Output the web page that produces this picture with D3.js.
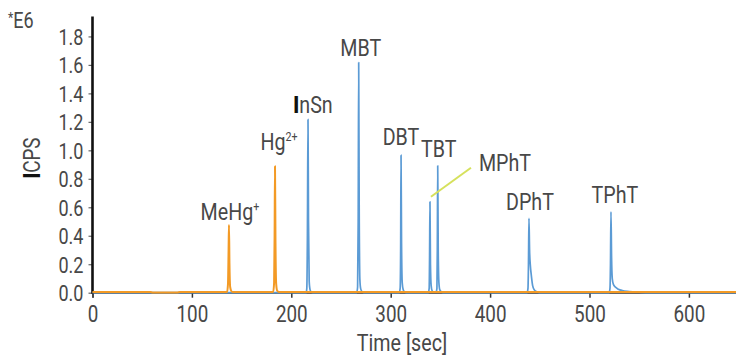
<!DOCTYPE html>
<html>
<head>
<meta charset="utf-8">
<script src="https://cdn.jsdelivr.net/npm/d3@7/dist/d3.min.js"></script>
<style>
  html, body { margin: 0; padding: 0; background: #fff; }
  svg { display: block; }
  text { font-family: Roboto, "Noto Sans", sans-serif; fill: #484848; }
</style>
</head>
<body>
<svg id="chart" width="736" height="359"></svg>
<script>
// Time axis ticks (s) and intensity ticks (x 10^6 counts per second)
const timeTicks = [0, 100, 200, 300, 400, 500, 600];
const cpsTicks = [0.0, 0.2, 0.4, 0.6, 0.8, 1.0, 1.2, 1.4, 1.6, 1.8];

// Hg channel trace: [time s, ICPS x1e6]
const hgTrace = [
  [0, 0.005], [58, 0.005], [61, 0.001], [85, 0.001], [88, 0.005],
  [135.4, 0.005], [136.3, 0.06], [136.9, 0.3], [137.3, 0.475], [137.8, 0.2], [138.5, 0.04], [139.6, 0.012], [141, 0.005],
  [181.8, 0.005], [182.7, 0.07], [183.2, 0.4], [183.6, 0.889], [184.1, 0.35], [184.8, 0.06], [185.9, 0.012], [187.5, 0.005],
  [650, 0.005]
];

// Sn channel trace: [time s, ICPS x1e6]
const snTrace = [
  [0, 0.0], [215, 0.0],
  [215.6, 0.03], [216.2, 0.4], [216.8, 1.217], [217.3, 0.5], [218.0, 0.08], [218.9, 0.02], [220, 0.005], [221.5, 0.0],
  [265.8, 0.0], [266.7, 0.04], [267.3, 0.5], [267.8, 1.617], [268.3, 0.6], [269.0, 0.09], [269.9, 0.025], [271.5, 0.005], [273, 0.0],
  [308.6, 0.0], [309.5, 0.03], [310.0, 0.3], [310.4, 0.966], [310.9, 0.35], [311.6, 0.07], [312.6, 0.02], [314, 0.005], [315.5, 0.0],
  [337.8, 0.0], [338.7, 0.03], [339.1, 0.25], [339.5, 0.639], [340.0, 0.2], [340.7, 0.05], [341.6, 0.015], [343, 0.005],
  [345.6, 0.003], [346.5, 0.03], [346.9, 0.3], [347.3, 0.891], [347.8, 0.3], [348.5, 0.07], [349.4, 0.02], [351, 0.005], [352.5, 0.0],
  [437.2, 0.0], [438.1, 0.03], [438.6, 0.2], [439.1, 0.522], [439.7, 0.3], [440.5, 0.19], [441.5, 0.12], [442.8, 0.05], [444.5, 0.02], [447, 0.006], [450, 0.0],
  [519.7, 0.0], [520.6, 0.03], [521.1, 0.2], [521.6, 0.568], [522.2, 0.25], [522.9, 0.1], [524, 0.06], [526, 0.04], [529, 0.025], [533, 0.015], [540, 0.008], [550, 0.003], [560, 0.0],
  [650, 0.0]
];

// Peak identities: name, superscript, retention time, apex height
const peakNames = ["MeHg", "Hg", "InSn", "MBT", "DBT", "MPhT", "TBT", "DPhT", "TPhT"];
const peakSups  = ["+", "2+", "", "", "", "", "", "", ""];
const peakTimes = [137.3, 183.6, 216.8, 267.8, 310.4, 339.5, 347.3, 439.1, 521.6];
const peakHeights = [0.475, 0.889, 1.217, 1.617, 0.966, 0.639, 0.891, 0.522, 0.568];

const svg = d3.select("#chart");
const x = d3.scaleLinear().domain([0, 650]).range([92.5, 738.6]);
const y = d3.scaleLinear().domain([0, 1.94]).range([292.7, 16.5]);
const SX = 0.82; // horizontal squeeze for a condensed look

// x axis
const xAxis = svg.append("g")
  .attr("transform", `translate(0,${y(0)})`)
  .call(d3.axisBottom(x).tickValues(timeTicks).tickSize(5).tickPadding(6).tickFormat(d3.format("d")));
xAxis.select(".domain").attr("stroke", "#333").attr("stroke-width", 1.2);
xAxis.selectAll(".tick line").attr("stroke", "#333").attr("stroke-width", 1.5);
xAxis.selectAll(".tick text")
  .attr("font-size", 23).attr("fill", "#484848")
  .attr("transform", `scale(${SX},1)`)
  .attr("dy", "0.71em").attr("y", 13);

// y axis
const yAxis = svg.append("g")
  .attr("transform", `translate(${x(0)},0)`)
  .call(d3.axisLeft(y).tickValues(cpsTicks).tickSize(4).tickPadding(5).tickFormat(d3.format(".1f")));
yAxis.select(".domain").remove();
yAxis.selectAll(".tick line").attr("stroke", "#666").attr("stroke-width", 1.2);
yAxis.selectAll(".tick text")
  .attr("font-size", 22).attr("fill", "#484848")
  .attr("transform", `scale(${SX},1)`)
  .attr("x", -9 / SX).attr("dy", "0.36em");
svg.append("line")
  .attr("x1", x(0)).attr("x2", x(0))
  .attr("y1", 16.5).attr("y2", y(0) + 1)
  .attr("stroke", "#111").attr("stroke-width", 2.6);

// traces
const lineGen = d3.line().x(d => x(d[0])).y(d => y(d[1])).curve(d3.curveMonotoneX);
svg.append("path").datum(snTrace)
  .attr("d", lineGen).attr("fill", "none")
  .attr("stroke", "#5b9bd5").attr("stroke-width", 1.7).attr("stroke-linejoin", "round");
svg.append("path").datum(hgTrace)
  .attr("d", lineGen).attr("fill", "none")
  .attr("stroke", "#f39a25").attr("stroke-width", 2).attr("stroke-linejoin", "round");

// text helper with condensed squeeze
function squeezedText(px, py, opts = {}) {
  return svg.append("text")
    .attr("transform", `translate(${px},${py}) ${opts.rotate ? `rotate(${opts.rotate})` : ""} scale(${SX},1)`)
    .attr("text-anchor", opts.anchor || "middle")
    .attr("font-size", opts.size || 23);
}

// peak labels, offset from each apex
const labelOffsets = {
  MeHg: [1, -5], Hg: [4, -16], InSn: [5, -6], MBT: [2, -6], DBT: [0, -10],
  MPhT: [75, -31], TBT: [1, -9], DPhT: [1, -8], TPhT: [4, -9]
};
peakNames.forEach((name, i) => {
  const [dx, dy] = labelOffsets[name];
  const t = squeezedText(x(peakTimes[i]) + dx, y(peakHeights[i]) + dy, { size: 24 });
  if (name === "InSn") {
    t.append("tspan").attr("font-weight", 900).attr("fill", "#111").text("I");
    t.append("tspan").text("nSn");
  } else {
    t.append("tspan").text(name);
  }
  if (peakSups[i]) {
    t.append("tspan").attr("font-size", 13).attr("dy", -9).text(peakSups[i]);
  }
});

// leader line to the MPhT peak
const mi = peakNames.indexOf("MPhT");
svg.append("line")
  .attr("x1", x(peakTimes[mi]) + 1).attr("y1", y(peakHeights[mi]) - 5)
  .attr("x2", x(peakTimes[mi]) + 41).attr("y2", y(peakHeights[mi]) - 34)
  .attr("stroke", "#d6e15c").attr("stroke-width", 2);

// axis titles
const yt = squeezedText(40, 158, { rotate: -90, size: 23 });
yt.append("tspan").attr("font-weight", 900).attr("fill", "#111").text("I");
yt.append("tspan").text("CPS");
squeezedText(402, 351, { size: 24 }).text("Time [sec]");
const e6 = squeezedText(8, 28, { anchor: "start", size: 22 });
e6.append("tspan").attr("font-size", 15).attr("dy", -5).text("*");
e6.append("tspan").attr("dy", 5).text("E6");
</script>
</body>
</html>
